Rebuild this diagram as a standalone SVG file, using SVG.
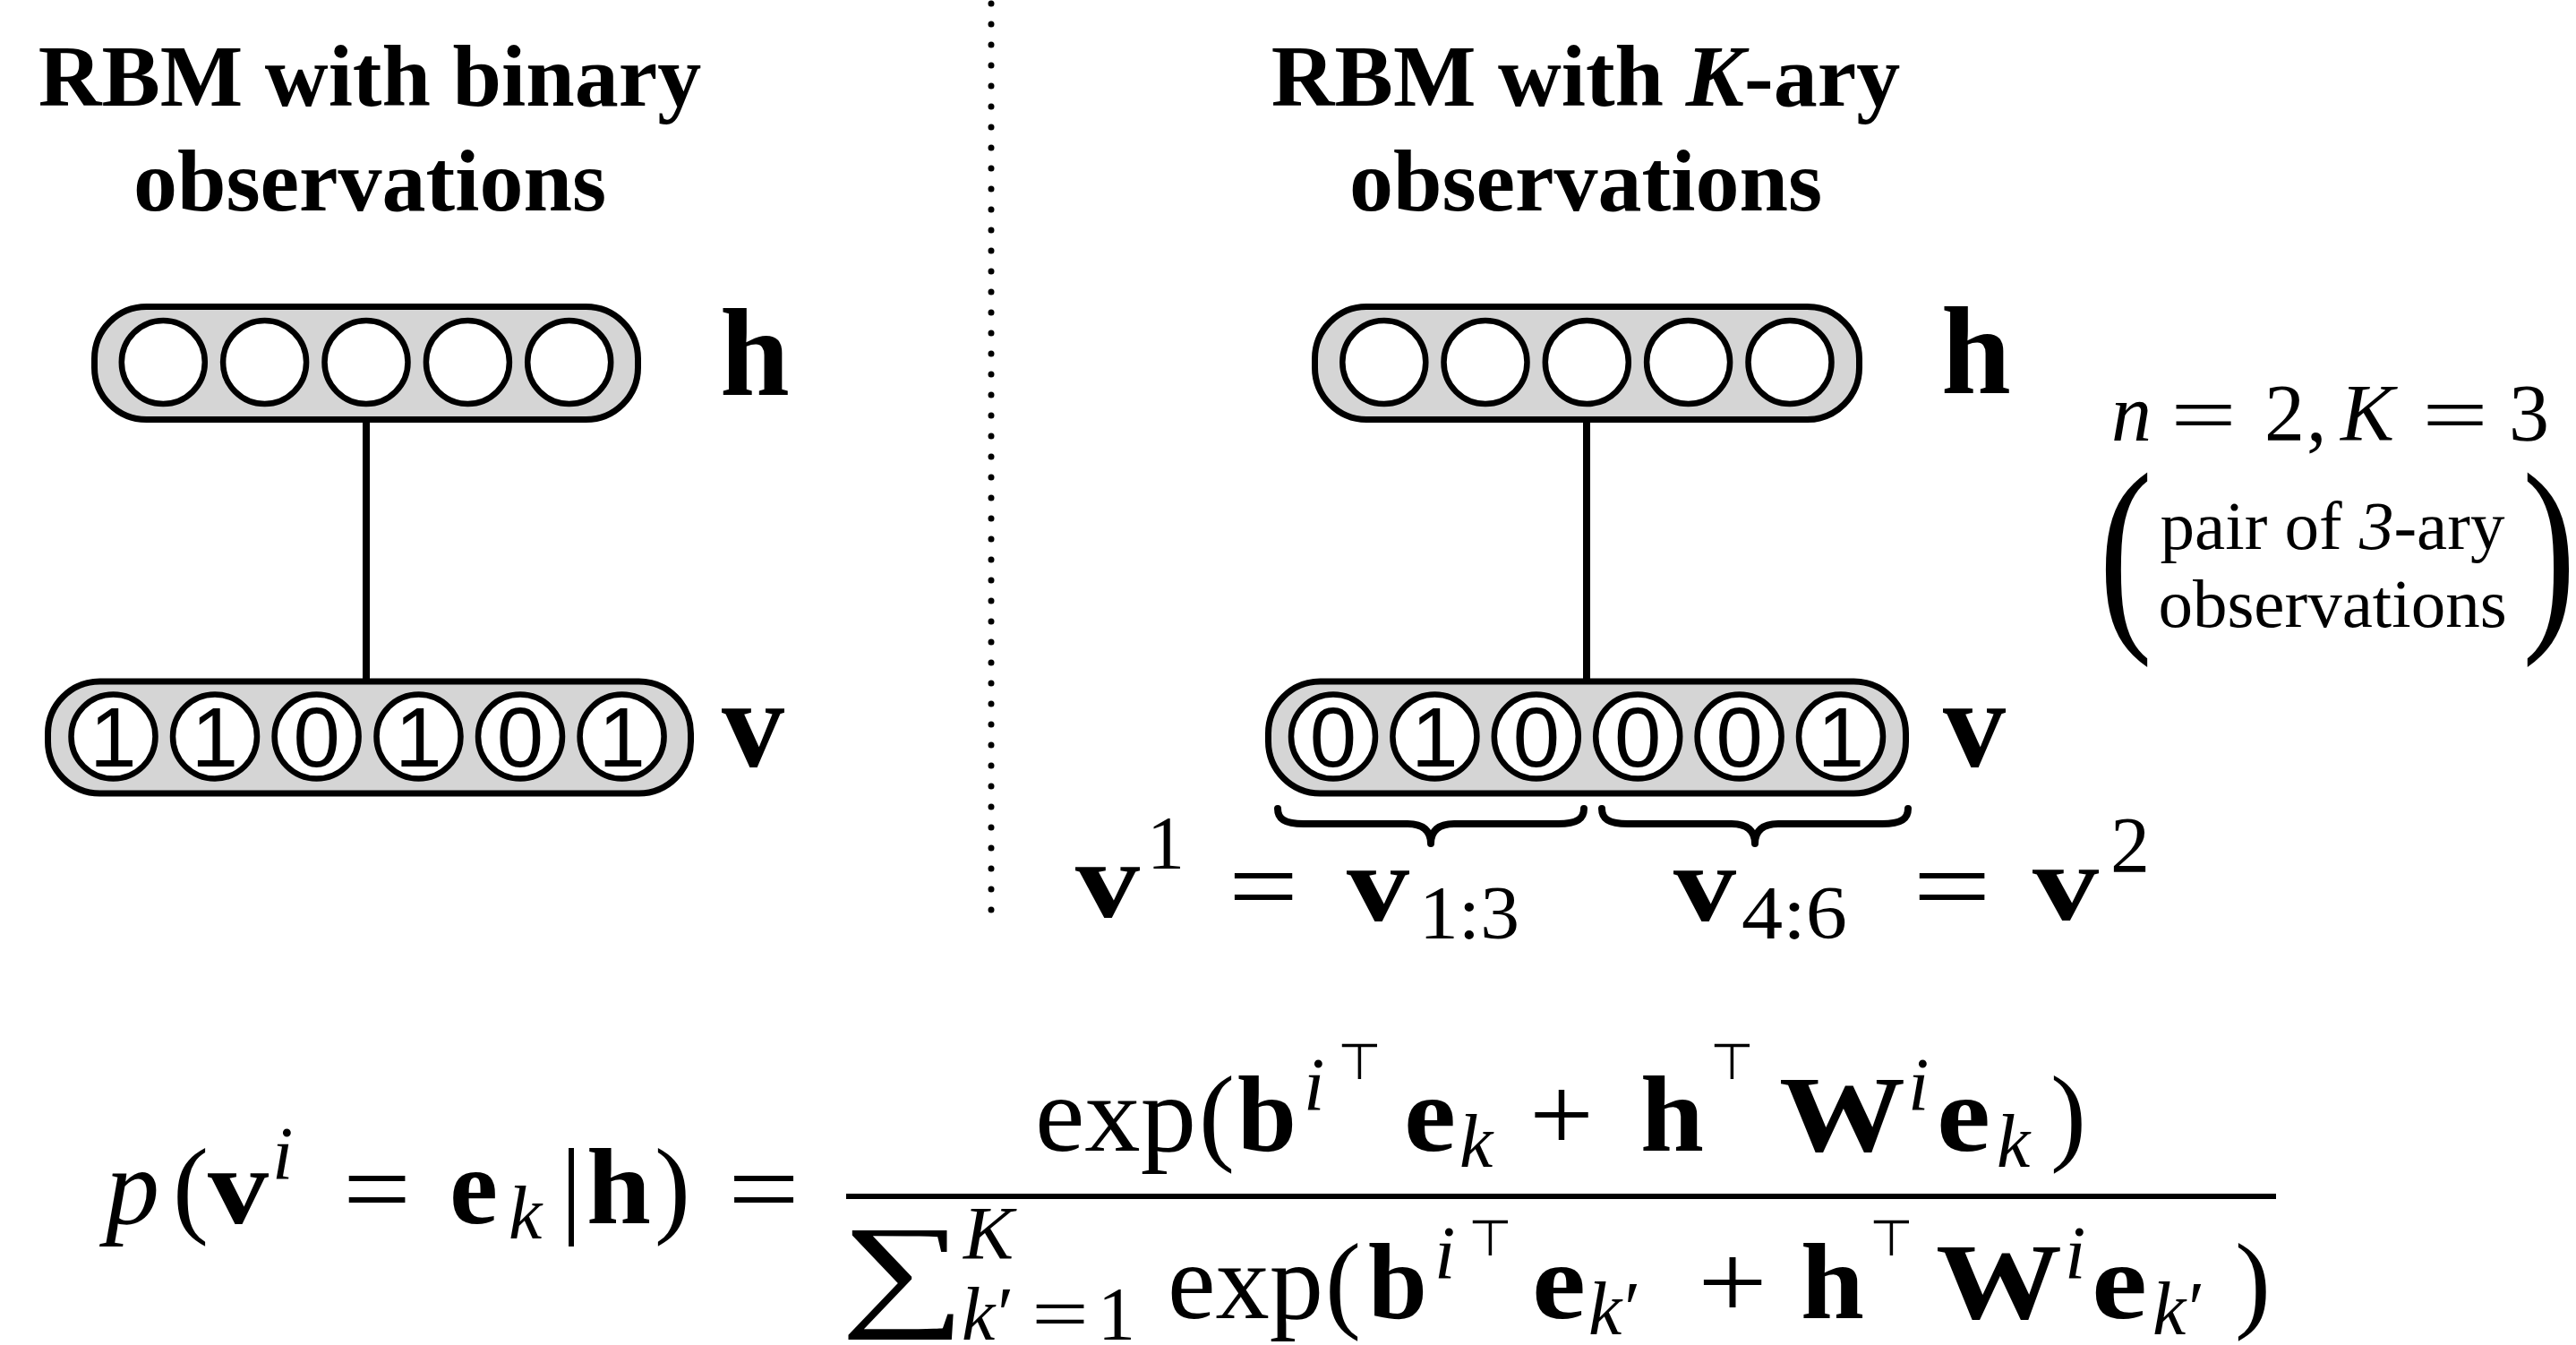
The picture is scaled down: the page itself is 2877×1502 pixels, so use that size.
<svg xmlns="http://www.w3.org/2000/svg" width="2877" height="1502" viewBox="0 0 2877 1502">
<style>
.pill{fill:#d5d5d5;stroke:#000;stroke-width:7}
.unit{fill:#fff;stroke:#000;stroke-width:6.5}
.digit{font-family:"Liberation Sans",sans-serif;font-size:94px;text-anchor:middle;fill:#000}
.conn{stroke:#000;stroke-width:8;fill:none}
.title{font-family:"Liberation Serif",serif;font-size:98px;font-weight:bold;text-anchor:middle}
.lab{font-family:"Liberation Serif",serif;font-size:140px;font-weight:bold}
.m{font-family:"Liberation Serif",serif;font-size:120px}
.s{font-size:84px}
.a{font-size:90px}
.b{font-weight:bold}
.i{font-style:italic}
.top{font-family:"DejaVu Sans",sans-serif;font-size:56px}
.brace{fill:none;stroke:#000;stroke-width:8;stroke-linecap:round;stroke-linejoin:round}
.ann{font-family:"Liberation Serif",serif;font-size:77px;text-anchor:middle}
</style>

<g id="divider">
<line x1="1107" y1="4" x2="1107" y2="1032" stroke="#000" stroke-width="7" stroke-linecap="round" stroke-dasharray="0 23"/>
</g>

<g id="title-left">
<text class="title" x="413" y="118">RBM with binary</text>
<text class="title" x="413" y="235">observations</text>
</g>
<g id="title-right">
<text class="title" x="1771" y="118">RBM with <tspan font-style="italic">K</tspan>-ary</text>
<text class="title" x="1771" y="235">observations</text>
</g>

<g id="connectors">
<line class="conn" x1="409" y1="470" x2="409" y2="760"/>
<line class="conn" x1="1772" y1="470" x2="1772" y2="760"/>
</g>

<g id="h-left">
<rect class="pill" x="105.5" y="342.5" width="607" height="126" rx="58"/>
<circle class="unit" cx="182.3" cy="404.5" r="46.5"/>
<circle class="unit" cx="295.6" cy="404.5" r="46.5"/>
<circle class="unit" cx="409" cy="404.5" r="46.5"/>
<circle class="unit" cx="522.4" cy="404.5" r="46.5"/>
<circle class="unit" cx="635.7" cy="404.5" r="46.5"/>
</g>
<text id="h-left-label" class="lab" x="804" y="441">h</text>

<g id="v-left">
<rect class="pill" x="53.5" y="761" width="718" height="125" rx="58"/>
<circle class="unit" cx="126.5" cy="822.5" r="47"/>
<circle class="unit" cx="240" cy="822.5" r="47"/>
<circle class="unit" cx="353.6" cy="822.5" r="47"/>
<circle class="unit" cx="467.5" cy="822.5" r="47"/>
<circle class="unit" cx="581" cy="822.5" r="47"/>
<circle class="unit" cx="694.6" cy="822.5" r="47"/>
<text class="digit" x="126.5" y="856">1</text>
<text class="digit" x="240" y="856">1</text>
<text class="digit" x="353.6" y="856">0</text>
<text class="digit" x="467.5" y="856">1</text>
<text class="digit" x="581" y="856">0</text>
<text class="digit" x="694.6" y="856">1</text>
</g>
<text id="v-left-label" class="lab" x="806" y="856">v</text>

<g id="h-right">
<rect class="pill" x="1468.5" y="342.5" width="608" height="126" rx="58"/>
<circle class="unit" cx="1545.8" cy="404.5" r="46.5"/>
<circle class="unit" cx="1659" cy="404.5" r="46.5"/>
<circle class="unit" cx="1772.3" cy="404.5" r="46.5"/>
<circle class="unit" cx="1885.6" cy="404.5" r="46.5"/>
<circle class="unit" cx="1999" cy="404.5" r="46.5"/>
</g>
<text id="h-right-label" class="lab" x="2168" y="439">h</text>

<g id="v-right">
<rect class="pill" x="1416.5" y="761" width="712" height="125" rx="58"/>
<circle class="unit" cx="1489" cy="822.5" r="47"/>
<circle class="unit" cx="1602.4" cy="822.5" r="47"/>
<circle class="unit" cx="1715.8" cy="822.5" r="47"/>
<circle class="unit" cx="1829.2" cy="822.5" r="47"/>
<circle class="unit" cx="1942.6" cy="822.5" r="47"/>
<circle class="unit" cx="2056" cy="822.5" r="47"/>
<text class="digit" x="1489" y="856">0</text>
<text class="digit" x="1602.4" y="856">1</text>
<text class="digit" x="1715.8" y="856">0</text>
<text class="digit" x="1829.2" y="856">0</text>
<text class="digit" x="1942.6" y="856">0</text>
<text class="digit" x="2056" y="856">1</text>
</g>
<text id="v-right-label" class="lab" x="2170" y="856">v</text>

<g id="braces">
<path class="brace" d="M1427 903 C1427 914 1434 920 1456 920 L1572 920 C1590 920 1598 928 1598 942 C1598 928 1606 920 1624 920 L1740 920 C1762 920 1769 914 1769 903"/>
<path class="brace" d="M1789 903 C1789 914 1796 920 1818 920 L1934 920 C1952 920 1960 928 1960 942 C1960 928 1968 920 1986 920 L2102 920 C2124 920 2131 914 2131 903"/>
</g>

<g id="split-labels">
<text class="m b" x="1201" y="1024" textLength="72" lengthAdjust="spacingAndGlyphs">v</text>
<text class="m s" x="1281" y="970">1</text>
<text class="m" x="1372" y="1030" textLength="78" lengthAdjust="spacingAndGlyphs">=</text>
<text class="m b" x="1504" y="1028" textLength="70" lengthAdjust="spacingAndGlyphs">v</text>
<text class="m s" x="1585" y="1048" textLength="112" lengthAdjust="spacingAndGlyphs">1:3</text>
<text class="m b" x="1869" y="1028" textLength="70" lengthAdjust="spacingAndGlyphs">v</text>
<text class="m s" x="1945" y="1048" textLength="118" lengthAdjust="spacingAndGlyphs">4:6</text>
<text class="m" x="2136" y="1030" textLength="88" lengthAdjust="spacingAndGlyphs">=</text>
<text class="m b" x="2270" y="1027" textLength="74" lengthAdjust="spacingAndGlyphs">v</text>
<text class="m" x="2357" y="973" style="font-size:88px">2</text>
</g>

<g id="annotation">
<text class="m a i" x="2358" y="492">n</text>
<text class="m a" x="2424" y="494" textLength="74" lengthAdjust="spacingAndGlyphs">=</text>
<text class="m a" x="2529" y="492">2</text>
<text class="m a" x="2576" y="492">,</text>
<text class="m a i" x="2614" y="492">K</text>
<text class="m a" x="2705" y="494" textLength="74" lengthAdjust="spacingAndGlyphs">=</text>
<text class="m a" x="2802" y="492">3</text>
<text font-family="Liberation Serif, serif" font-size="240" transform="translate(2344,694) scale(0.75,1)">(</text>
<text font-family="Liberation Serif, serif" font-size="240" transform="translate(2817,694) scale(0.75,1)">)</text>
<text class="ann" x="2605" y="613">pair of <tspan font-style="italic">3</tspan>-ary</text>
<text class="ann" x="2605" y="700">observations</text>
</g>

<g id="formula">
<text class="m i" x="118" y="1366">p</text>
<text class="m" x="193" y="1366">(</text>
<text class="m b" x="232" y="1366" textLength="68" lengthAdjust="spacingAndGlyphs">v</text>
<text class="m i s" x="304" y="1317">i</text>
<text class="m" x="383" y="1368" textLength="76" lengthAdjust="spacingAndGlyphs">=</text>
<text class="m b" x="502" y="1366" textLength="54" lengthAdjust="spacingAndGlyphs">e</text>
<text class="m i s" x="568" y="1383">k</text>
<text class="m" x="626" y="1366">|</text>
<text class="m b" x="655" y="1366" textLength="72" lengthAdjust="spacingAndGlyphs">h</text>
<text class="m" x="731" y="1366">)</text>
<text class="m" x="813" y="1368" textLength="80" lengthAdjust="spacingAndGlyphs">=</text>

<line x1="945" y1="1336" x2="2542" y2="1336" stroke="#000" stroke-width="6"/>

<text class="m" x="1156" y="1285" textLength="180" lengthAdjust="spacingAndGlyphs">exp</text>
<text class="m" x="1339" y="1285">(</text>
<text class="m b" x="1382" y="1285" textLength="66" lengthAdjust="spacingAndGlyphs">b</text>
<text class="m i s" x="1456" y="1240">i</text>
<text class="top" x="1494" y="1205">⊤</text>
<text class="m b" x="1568" y="1285" textLength="58" lengthAdjust="spacingAndGlyphs">e</text>
<text class="m i s" x="1630" y="1303">k</text>
<text class="m" x="1708" y="1285" textLength="72" lengthAdjust="spacingAndGlyphs">+</text>
<text class="m b" x="1832" y="1285" textLength="71" lengthAdjust="spacingAndGlyphs">h</text>
<text class="top" x="1910" y="1205">⊤</text>
<text class="m b" x="1987" y="1285" textLength="141" lengthAdjust="spacingAndGlyphs">W</text>
<text class="m i s" x="2131" y="1240">i</text>
<text class="m b" x="2163" y="1285" textLength="60" lengthAdjust="spacingAndGlyphs">e</text>
<text class="m i s" x="2230" y="1303">k</text>
<text class="m" x="2290" y="1285">)</text>

<text font-family="Liberation Serif, serif" font-size="140" transform="translate(939,1466) scale(1.4,1)">∑</text>
<text class="m i s" x="1076" y="1406">K</text>
<text class="m i s" x="1074" y="1496">k</text>
<text class="m s" x="1114" y="1496">′</text>
<text class="m s" x="1152" y="1496" textLength="64" lengthAdjust="spacingAndGlyphs">=</text>
<text class="m s" x="1226" y="1496">1</text>
<text class="m" x="1304" y="1472" textLength="174" lengthAdjust="spacingAndGlyphs">exp</text>
<text class="m" x="1480" y="1472">(</text>
<text class="m b" x="1528" y="1472" textLength="66" lengthAdjust="spacingAndGlyphs">b</text>
<text class="m i s" x="1602" y="1428">i</text>
<text class="top" x="1640" y="1402">⊤</text>
<text class="m b" x="1711" y="1472" textLength="60" lengthAdjust="spacingAndGlyphs">e</text>
<text class="m i s" x="1774" y="1490">k</text>
<text class="m s" x="1814" y="1490">′</text>
<text class="m" x="1896" y="1472" textLength="78" lengthAdjust="spacingAndGlyphs">+</text>
<text class="m b" x="2011" y="1472" textLength="71" lengthAdjust="spacingAndGlyphs">h</text>
<text class="top" x="2088" y="1402">⊤</text>
<text class="m b" x="2162" y="1472" textLength="141" lengthAdjust="spacingAndGlyphs">W</text>
<text class="m i s" x="2306" y="1428">i</text>
<text class="m b" x="2336" y="1472" textLength="62" lengthAdjust="spacingAndGlyphs">e</text>
<text class="m i s" x="2404" y="1490">k</text>
<text class="m s" x="2444" y="1490">′</text>
<text class="m" x="2496" y="1472">)</text>
</g>
</svg>
